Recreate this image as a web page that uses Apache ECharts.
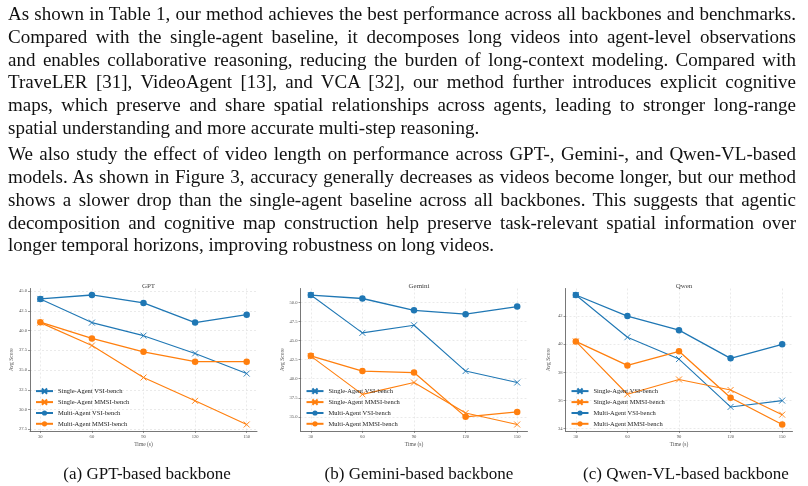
<!DOCTYPE html>
<html>
<head>
<meta charset="utf-8">
<script src="https://cdn.jsdelivr.net/npm/echarts@6/dist/echarts.min.js"></script>
<style>
  html, body { margin: 0; padding: 0; background: #fff; }
  #page { position: relative; width: 808px; height: 486px; overflow: hidden; }
  #text { position: absolute; left: 8px; top: 3px; width: 788px;
    font-family: "Liberation Serif", "Times New Roman", serif; font-size: 19px;
    line-height: 22.8px; color: #111; }
  #text p { margin: 0 0 3.5px 0; }
  #text span { display: block; white-space: nowrap; text-align: justify; text-align-last: justify; }
  #text span.end { text-align: left; text-align-last: left; }
  #chart { position: absolute; left: 0; top: 0; width: 808px; height: 486px; }
</style>
</head>
<body>
<div id="page">
  <div id="chart"></div>
  <div id="text">
    <p><span>As shown in Table 1, our method achieves the best performance across all backbones and benchmarks.</span>
<span>Compared with the single-agent baseline, it decomposes long videos into agent-level observations</span>
<span>and enables collaborative reasoning, reducing the burden of long-context modeling. Compared with</span>
<span>TraveLER [31], VideoAgent [13], and VCA [32], our method further introduces explicit cognitive</span>
<span>maps, which preserve and share spatial relationships across agents, leading to stronger long-range</span>
<span class="end">spatial understanding and more accurate multi-step reasoning.</span></p>
    <p><span>We also study the effect of video length on performance across GPT-, Gemini-, and Qwen-VL-based</span>
<span>models. As shown in Figure 3, accuracy generally decreases as videos become longer, but our method</span>
<span>shows a slower drop than the single-agent baseline across all backbones. This suggests that agentic</span>
<span>decomposition and cognitive map construction help preserve task-relevant spatial information over</span>
<span class="end">longer temporal horizons, improving robustness on long videos.</span></p>
  </div>
</div>
<script>
// --- data ------------------------------------------------------------------
const times = [30, 60, 90, 120, 150];
const seriesNames = ["Single-Agent VSI-bench", "Single-Agent MMSI-bench", "Multi-Agent VSI-bench", "Multi-Agent MMSI-bench"];

const gptSingleVsi = [44.0, 41.0, 39.35, 37.1, 34.55];
const gptSingleMmsi = [41.0, 38.1, 34.05, 31.1, 28.1];
const gptMultiVsi = [44.0, 44.5, 43.5, 41.0, 42.0];
const gptMultiMmsi = [41.05, 39.0, 37.3, 36.05, 36.05];

const geminiSingleVsi = [50.95, 46.0, 47.0, 41.0, 39.5];
const geminiSingleMmsi = [42.95, 37.95, 39.5, 35.5, 34.0];
const geminiMultiVsi = [50.95, 50.5, 48.95, 48.45, 49.45];
const geminiMultiMmsi = [43.0, 41.0, 40.8, 35.0, 35.65];

const qwenSingleVsi = [43.5, 40.5, 38.95, 35.55, 36.0];
const qwenSingleMmsi = [40.2, 36.45, 37.5, 36.75, 35.0];
const qwenMultiVsi = [43.5, 42.0, 41.0, 39.0, 40.0];
const qwenMultiMmsi = [40.2, 38.5, 39.5, 36.2, 34.3];

const gptTicks = [27.5, 30.0, 32.5, 35.0, 37.5, 40.0, 42.5, 45.0];
const geminiTicks = [35.0, 37.5, 40.0, 42.5, 45.0, 47.5, 50.0];
const qwenTicks = [34, 36, 38, 40, 42];

const panels = [
  { title: "GPT", caption: "(a) GPT-based backbone", left: 30, capX: 142, min: 27.28, max: 45.32, ticks: gptTicks, dec: 1,
    data: [gptSingleVsi, gptSingleMmsi, gptMultiVsi, gptMultiMmsi] },
  { title: "Gemini", caption: "(b) Gemini-based backbone", left: 300.5, capX: 414, min: 33.15, max: 51.81, ticks: geminiTicks, dec: 1,
    data: [geminiSingleVsi, geminiSingleMmsi, geminiMultiVsi, geminiMultiMmsi] },
  { title: "Qwen", caption: "(c) Qwen-VL-based backbone", left: 565.5, capX: 681, min: 33.84, max: 43.96, ticks: qwenTicks, dec: 0,
    data: [qwenSingleVsi, qwenSingleMmsi, qwenMultiVsi, qwenMultiMmsi] },
];

// --- style -------------------------------------------------------------------
const BLUE = "#1f77b4", ORANGE = "#ff7f0e";
const SERIF = "Liberation Serif";
const GRID_W = 227, GRID_TOP = 288.5, GRID_H = 142.5;
const CROSS = "path://M0,0L10,10M10,0L0,10";
const looks = [
  { color: BLUE, symbol: CROSS, size: 6, width: 1.1 },
  { color: ORANGE, symbol: CROSS, size: 6, width: 1.1 },
  { color: BLUE, symbol: "circle", size: 6.5, width: 1.3 },
  { color: ORANGE, symbol: "circle", size: 6.5, width: 1.3 },
];

const chart = echarts.init(document.getElementById("chart"), null, { renderer: "canvas" });

const grid = [], xAxis = [], yAxis = [], series = [], title = [], legend = [];
panels.forEach((p, i) => {
  const cx = p.left + GRID_W / 2;
  grid.push({ left: p.left, top: GRID_TOP, width: GRID_W, height: GRID_H });
  title.push({ text: p.title, left: cx, top: 278, textAlign: "center",
    textStyle: { fontFamily: SERIF, fontSize: 7, fontWeight: "normal", color: "#444" } });
  title.push({ text: p.caption, left: p.capX, top: 461.5, textAlign: "center",
    textStyle: { fontFamily: SERIF, fontSize: 17, fontWeight: "normal", color: "#111" } });
  const gridLine = { show: true, lineStyle: { color: "#dcdcdc", width: 0.6, type: [2, 2] } };
  xAxis.push({
    type: "value", gridIndex: i, min: 24, max: 156,
    name: "Time (s)", nameLocation: "middle", nameGap: 11,
    nameTextStyle: { fontFamily: SERIF, fontSize: 5.5, color: "#555" },
    axisLine: { show: true, lineStyle: { color: "#555", width: 0.8 } },
    axisTick: { show: true, length: 2, customValues: times, lineStyle: { color: "#555", width: 0.6 } },
    axisLabel: { customValues: times, fontFamily: SERIF, fontSize: 4.6, color: "#555", margin: 3 },
    splitLine: gridLine,
  });
  yAxis.push({
    type: "value", gridIndex: i, min: p.min, max: p.max,
    name: "Avg Score", nameLocation: "middle", nameGap: 14,
    nameTextStyle: { fontFamily: SERIF, fontSize: 5.5, color: "#555" },
    axisLine: { show: true, lineStyle: { color: "#555", width: 0.8 } },
    axisTick: { show: true, length: 2, customValues: p.ticks, lineStyle: { color: "#555", width: 0.6 } },
    axisLabel: { customValues: p.ticks, fontFamily: SERIF, fontSize: 4.6, color: "#555", margin: 3,
      formatter: (v) => v.toFixed(p.dec) },
    splitLine: gridLine,
  });
  p.data.forEach((vals, k) => {
    const lk = looks[k];
    series.push({
      type: "line", name: seriesNames[k], xAxisIndex: i, yAxisIndex: i,
      data: times.map((t, j) => [t, vals[j]]),
      symbol: lk.symbol, symbolSize: lk.size, showSymbol: true, animation: false,
      lineStyle: { color: lk.color, width: lk.width },
      itemStyle: { color: lk.color, borderColor: lk.color, borderWidth: lk.symbol === CROSS ? 0.9 : 0 },
      emphasis: { disabled: true },
    });
  });
  legend.push({
    data: seriesNames, left: p.left + 5, top: 387.5, orient: "vertical", padding: 0,
    itemWidth: 17, itemHeight: 6.5, itemGap: 3.8, selectedMode: false,
    textStyle: { fontFamily: SERIF, fontSize: 6.5, color: "#222" },
  });
});

chart.setOption({ animation: false, title, grid, xAxis, yAxis, series, legend });
</script>
</body>
</html>
